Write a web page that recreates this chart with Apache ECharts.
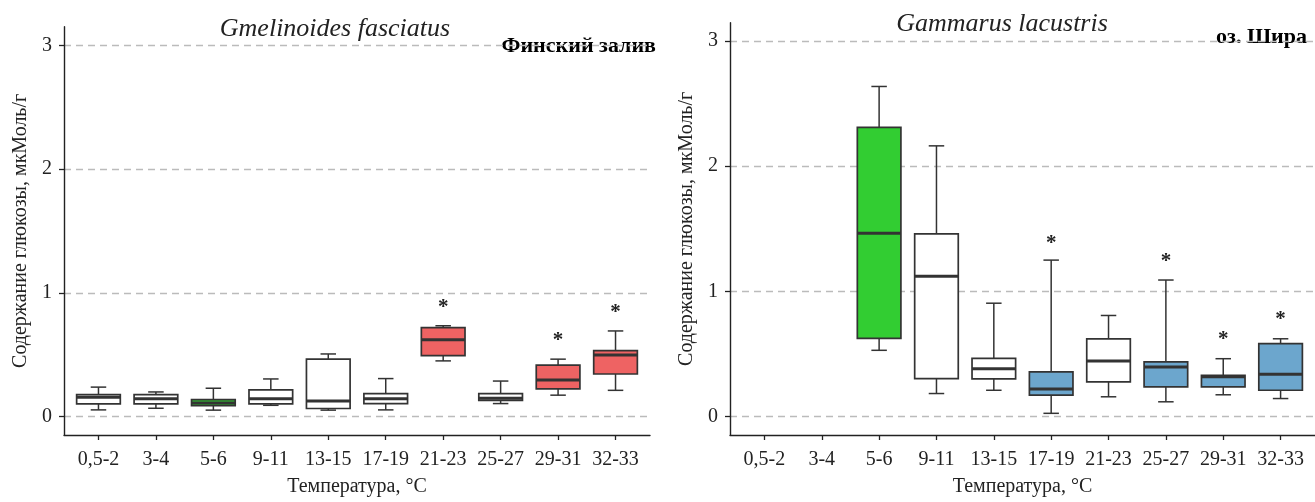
<!DOCTYPE html>
<html>
<head>
<meta charset="utf-8">
<script src="https://cdn.jsdelivr.net/npm/echarts@6.0.0/dist/echarts.min.js"></script>
<style>
  html, body { margin: 0; padding: 0; background: #fff; }
  #chart { width: 1315px; height: 502px; }
</style>
</head>
<body>
<div id="chart"></div>
<script>
// ---------- data ----------
const categories = ['0,5-2', '3-4', '5-6', '9-11', '13-15', '17-19', '21-23', '25-27', '29-31', '32-33'];
const yTicks = [0, 1, 2, 3];

// Gmelinoides fasciatus (Финский залив)
const gfMin    = [0.055, 0.068, 0.053, 0.092, 0.053, 0.055, 0.451, 0.106, 0.174, 0.213];
const gfQ1     = [0.104, 0.104, 0.090, 0.104, 0.066, 0.106, 0.494, 0.132, 0.225, 0.345];
const gfMedian = [0.158, 0.145, 0.110, 0.145, 0.127, 0.145, 0.621, 0.150, 0.297, 0.499];
const gfQ3     = [0.178, 0.178, 0.138, 0.216, 0.465, 0.187, 0.720, 0.186, 0.417, 0.534];
const gfMax    = [0.239, 0.200, 0.230, 0.305, 0.507, 0.308, 0.735, 0.288, 0.465, 0.693];
const gfGroup  = ['none', 'none', 'control', 'none', 'none', 'none', 'up', 'none', 'up', 'up'];
const gfStarCats = [6, 8, 9];
const gfStarY    = [0.916, 0.650, 0.876];

// Gammarus lacustris (оз. Шира)
const glMin    = [null, null, 0.530, 0.185, 0.211, 0.027, 0.159, 0.119, 0.175, 0.145];
const glQ1     = [null, null, 0.625, 0.304, 0.302, 0.172, 0.278, 0.238, 0.238, 0.211];
const glMedian = [null, null, 1.465, 1.121, 0.382, 0.222, 0.445, 0.397, 0.318, 0.339];
const glQ3     = [null, null, 2.310, 1.460, 0.466, 0.358, 0.622, 0.437, 0.331, 0.583];
const glMax    = [null, null, 2.636, 2.162, 0.906, 1.250, 0.808, 1.091, 0.463, 0.622];
const glGroup  = [null, null, 'control', 'none', 'none', 'down', 'none', 'down', 'down', 'down'];
const glStarCats = [5, 7, 8, 9];
const glStarY    = [1.417, 1.272, 0.649, 0.808];

// ---------- styling ----------
const groupColor = { none: '#FFFFFF', control: '#32CD32', up: '#EE6363', down: '#6CA6CD' };
const SERIF = '"Liberation Serif", "Times New Roman", serif';
const INK = '#222';
const LINE = '#333';

function buildBoxData(mn, q1, md, q3, mx, grp) {
  const data = [], groups = [];
  for (let i = 0; i < categories.length; i++) {
    if (mn[i] == null) continue;
    data.push([i, mn[i], q1[i], md[i], q3[i], mx[i]]);
    groups.push(grp[i]);
  }
  return { data, groups };
}

function boxRenderer(groups) {
  return function (params, api) {
    const x = api.value(0);
    const band = api.size([1, 0])[0];
    const bw = band * 0.76;
    const cw = band * 0.27;
    const pMin = api.coord([x, api.value(1)]);
    const pQ1 = api.coord([x, api.value(2)]);
    const pMed = api.coord([x, api.value(3)]);
    const pQ3 = api.coord([x, api.value(4)]);
    const pMax = api.coord([x, api.value(5)]);
    const cx = pMin[0];
    const fill = groupColor[groups[params.dataIndex]];
    const ls = { stroke: LINE, lineWidth: 1.5 };
    return {
      type: 'group',
      children: [
        { type: 'line', shape: { x1: cx, y1: pMax[1], x2: cx, y2: pMin[1] }, style: ls },
        { type: 'line', shape: { x1: cx - cw / 2, y1: pMax[1], x2: cx + cw / 2, y2: pMax[1] }, style: ls },
        { type: 'line', shape: { x1: cx - cw / 2, y1: pMin[1], x2: cx + cw / 2, y2: pMin[1] }, style: ls },
        { type: 'rect', shape: { x: cx - bw / 2, y: pQ3[1], width: bw, height: pQ1[1] - pQ3[1] },
          style: { fill: fill, stroke: LINE, lineWidth: 1.7 } },
        { type: 'line', shape: { x1: cx - bw / 2, y1: pMed[1], x2: cx + bw / 2, y2: pMed[1] },
          style: { stroke: LINE, lineWidth: 3 } }
      ]
    };
  };
}

function starRenderer(params, api) {
  const p = api.coord([api.value(0), api.value(1)]);
  return {
    type: 'text',
    x: p[0], y: p[1] + 4,
    style: { text: '*', font: 'bold 21px ' + SERIF, fill: INK, align: 'center', verticalAlign: 'middle' }
  };
}

function makeXAxis(gridIndex) {
  const idx = categories.map((c, i) => i);
  return {
    type: 'value', gridIndex: gridIndex, min: -0.6, max: 9.6,
    name: 'Температура, °C', nameLocation: 'middle', nameGap: 42,
    nameTextStyle: { fontFamily: SERIF, fontSize: 20, color: INK },
    axisLine: { onZero: false, lineStyle: { color: INK, width: 1.4 } },
    axisTick: { show: true, length: 5, customValues: idx, lineStyle: { color: INK, width: 1.3 } },
    axisLabel: { customValues: idx, margin: 15, fontFamily: SERIF, fontSize: 20, color: INK,
      formatter: v => categories[Math.round(v)] },
    splitLine: { show: false }
  };
}

function makeYAxis(gridIndex, min, max) {
  return {
    type: 'value', gridIndex: gridIndex, min: min, max: max,
    name: 'Содержание глюкозы, мкМоль/г', nameLocation: 'middle', nameGap: 33,
    nameTextStyle: { fontFamily: SERIF, fontSize: 20, color: INK },
    axisLine: { show: true, onZero: false, lineStyle: { color: INK, width: 1.4 } },
    axisTick: { show: true, length: 5, customValues: yTicks, lineStyle: { color: INK, width: 1.3 } },
    axisLabel: { customValues: yTicks, margin: 12, fontFamily: SERIF, fontSize: 20, color: INK },
    splitLine: { show: true, lineStyle: { color: '#BBBBBB', width: 1.4, type: [7, 5] } }
  };
}

const gf = buildBoxData(gfMin, gfQ1, gfMedian, gfQ3, gfMax, gfGroup);
const gl = buildBoxData(glMin, glQ1, glMedian, glQ3, glMax, glGroup);

const chart = echarts.init(document.getElementById('chart'), null, { renderer: 'canvas' });
chart.setOption({
  animation: false,
  backgroundColor: '#fff',
  grid: [
    { left: 64, top: 26.7, width: 586, height: 414.3 },
    { left: 730, top: 22.7, width: 585.6, height: 414 }
  ],
  xAxis: [makeXAxis(0), makeXAxis(1)],
  yAxis: [makeYAxis(0, -0.148, 3.152), makeYAxis(1, -0.146, 3.145)],
  graphic: [
    { type: 'text', x: 335, y: 29, style: { text: 'Gmelinoides fasciatus', font: 'italic 26px ' + SERIF, fill: INK, align: 'center', verticalAlign: 'middle' } },
    { type: 'text', x: 1002, y: 24, style: { text: 'Gammarus lacustris', font: 'italic 26px ' + SERIF, fill: INK, align: 'center', verticalAlign: 'middle' } },
    { type: 'text', x: 656, y: 46, style: { text: 'Финский залив', font: 'bold 22px ' + SERIF, fill: '#000', align: 'right', verticalAlign: 'middle' } },
    { type: 'text', x: 1307, y: 37, style: { text: 'оз. Шира', font: 'bold 22px ' + SERIF, fill: '#000', align: 'right', verticalAlign: 'middle' } }
  ],
  series: [
    { type: 'custom', xAxisIndex: 0, yAxisIndex: 0, clip: false, data: gf.data,
      encode: { x: 0, y: [1, 2, 3, 4, 5] }, renderItem: boxRenderer(gf.groups) },
    { type: 'custom', xAxisIndex: 1, yAxisIndex: 1, clip: false, data: gl.data,
      encode: { x: 0, y: [1, 2, 3, 4, 5] }, renderItem: boxRenderer(gl.groups) },
    { type: 'custom', xAxisIndex: 0, yAxisIndex: 0, clip: false,
      data: gfStarCats.map((c, i) => [c, gfStarY[i]]), renderItem: starRenderer },
    { type: 'custom', xAxisIndex: 1, yAxisIndex: 1, clip: false,
      data: glStarCats.map((c, i) => [c, glStarY[i]]), renderItem: starRenderer }
  ]
});
</script>
</body>
</html>
